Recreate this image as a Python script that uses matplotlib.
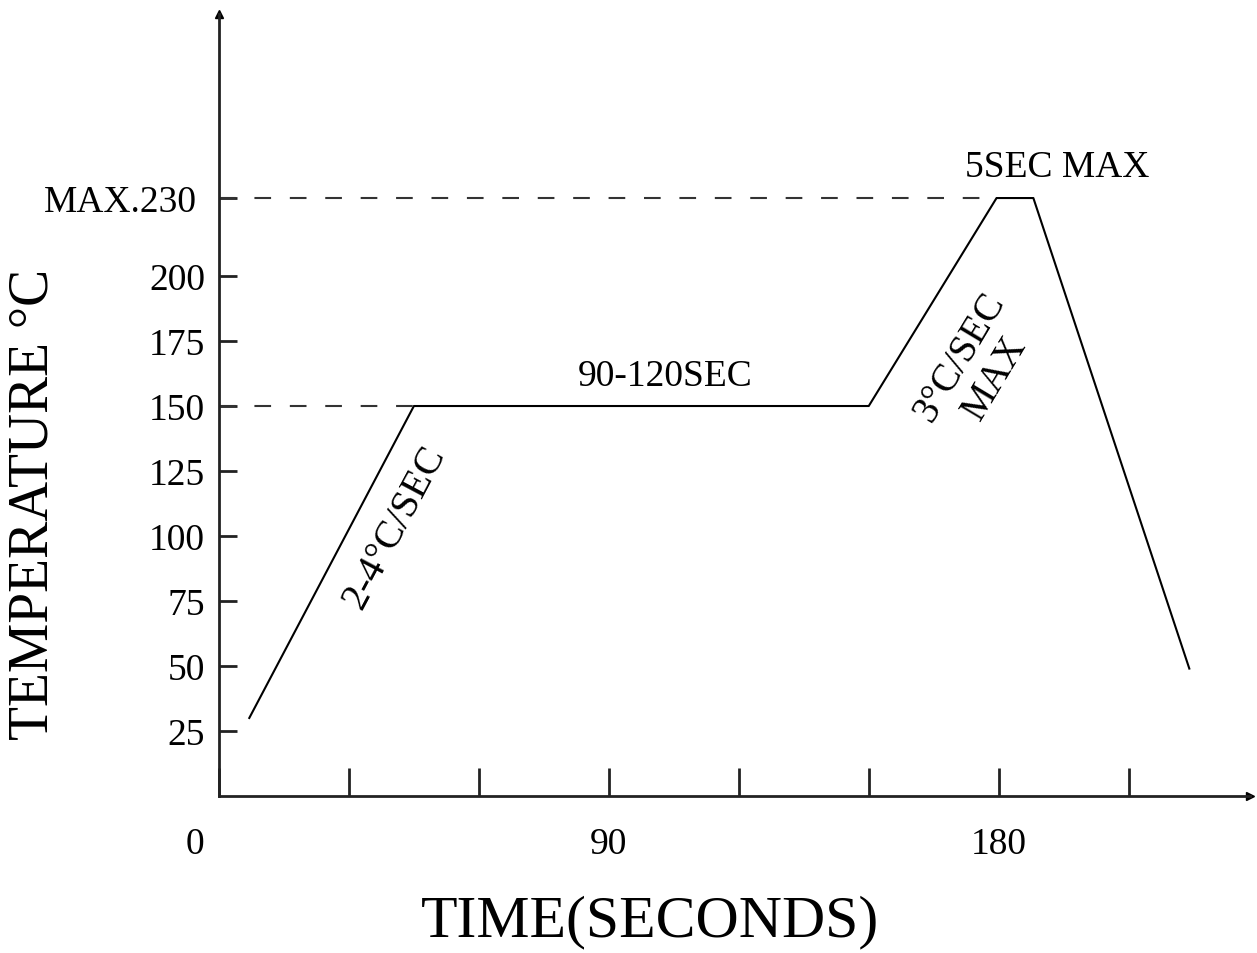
import matplotlib
matplotlib.use("Agg")
import matplotlib.pyplot as plt
import matplotlib.transforms as mtransforms

# reflow profile
time_s = [7, 45, 150, 179.5, 188, 224]
temp_c = [30, 150, 150, 230, 230, 49]

y_ticks = [25, 50, 75, 100, 125, 150, 175, 200, 230]
y_labels = ["25", "50", "75", "100", "125", "150", "175", "200", "MAX.230"]
x_ticks = [0, 30, 60, 90, 120, 150, 180, 210]
x_labels = ["0", "", "", "90", "", "", "180", ""]

plt.rcParams["font.family"] = ["Liberation Serif", "DejaVu Serif"]

fig = plt.figure(figsize=(12.57, 9.54), dpi=100)
ax = fig.add_axes([0.1742, 0.1646, 0.8202, 0.8197])
ax.set_xlim(0, 238)
ax.set_ylim(0, 300.8)

for side in ("top", "right"):
    ax.spines[side].set_visible(False)
for side in ("left", "bottom"):
    ax.spines[side].set_linewidth(2)
    ax.spines[side].set_color("#222222")

# small arrow heads at the axis ends
ax.plot([0], [300.8], marker="^", ms=6, color="black", clip_on=False)
ax.plot([238], [0], marker=">", ms=6, color="black", clip_on=False)

ax.plot(time_s, temp_c, color="black", lw=1.5)

# dashed guides from the y axis
ax.plot([0, time_s[1]], [temp_c[1], temp_c[1]], color="#333333", lw=1.5,
        dashes=(8, 9))
ax.plot([0, time_s[3]], [temp_c[3], temp_c[3]], color="#333333", lw=1.5,
        dashes=(8, 9))

ax.set_yticks(y_ticks)
ax.set_yticklabels(y_labels, fontsize=27)
ax.set_xticks(x_ticks)
ax.set_xticklabels(x_labels, fontsize=27)
ax.tick_params(axis="y", direction="in", length=13, width=2, pad=10,
               color="#222222")
ax.tick_params(axis="x", direction="in", length=20, width=2, pad=22,
               color="#222222")
ax.get_xticklabels()[0].set_transform(
    ax.get_xticklabels()[0].get_transform()
    + mtransforms.ScaledTranslation(-0.24, 0, fig.dpi_scale_trans))
ax.get_yticklabels()[-1].set_transform(
    ax.get_yticklabels()[-1].get_transform()
    + mtransforms.ScaledTranslation(-0.08, 0, fig.dpi_scale_trans))

fig.text(0.0265, 0.4717, "TEMPERATURE °C", rotation=90, fontsize=40,
         ha="center", va="center")
fig.text(0.517, 0.018, "TIME(SECONDS)", fontsize=43, ha="center",
         va="baseline")

ax.text(103, 155, "90-120SEC", fontsize=27, ha="center", va="bottom")
ax.text(193.5, 235.5, "5SEC MAX", fontsize=27, ha="center", va="bottom")
ax.text(40.6, 103.5, "2-4°C/SEC", fontsize=28.5, rotation=62, ha="center",
        va="center")
ax.text(175, 165, "3°C/SEC\nMAX", fontsize=28, rotation=59, ha="center",
        va="center", linespacing=1.15)

fig.savefig("out.png", dpi=100)
